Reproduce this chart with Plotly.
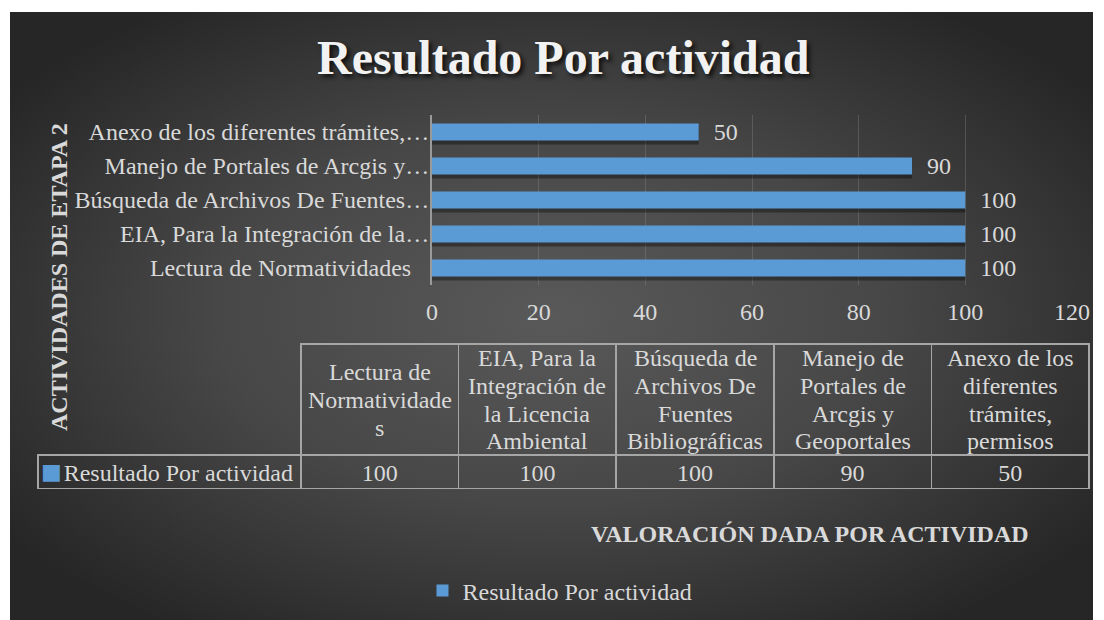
import base64
import plotly.graph_objects as go

# ---- data ----
categories = [
    "Lectura de Normatividades",
    "EIA, Para la Integración de la Licencia Ambiental",
    "Búsqueda de Archivos De Fuentes Bibliográficas",
    "Manejo de Portales de Arcgis y Geoportales",
    "Anexo de los diferentes trámites, permisos",
]
axis_labels = [
    "Lectura de Normatividades\u00a0\u00a0\u00a0",
    "EIA, Para la Integración de la…",
    "Búsqueda de Archivos De Fuentes…",
    "Manejo de Portales de Arcgis y…",
    "Anexo de los diferentes trámites,…",
]
table_labels = [
    ["Lectura de", "Normatividade", "s"],
    ["EIA, Para la", "Integración de", "la Licencia", "Ambiental"],
    ["Búsqueda de", "Archivos De", "Fuentes", "Bibliográficas"],
    ["Manejo de", "Portales de", "Arcgis y", "Geoportales"],
    ["Anexo de los", "diferentes", "trámites,", "permisos"],
]
values = [100, 100, 100, 90, 50]
series_name = "Resultado Por actividad"
x_ticks = [0, 20, 40, 60, 80, 100, 120]

W, H = 1104, 620
FONT = "Liberation Serif"
TXT = "#d9d9d9"
BAR = "#5B9BD5"
FS = 24

# table geometry (px)
TBL_L, TBL_R = 38, 1089
TBL_TOP, HDR_BOT, TBL_BOT = 344, 455, 489
label_w = 263
col_w = (TBL_R - TBL_L - label_w) / len(categories)
LINE_H = 28

# background gradient (svg data uri)
svg = """<svg xmlns='http://www.w3.org/2000/svg' width='1083' height='608' viewBox='0 0 1083 608'>
<defs><radialGradient id='g' cx='0.5' cy='0.5' r='0.62' fx='0.5' fy='0.5'>
<stop offset='0' stop-color='#595959'/><stop offset='0.5' stop-color='#474747'/><stop offset='1' stop-color='#262626'/>
</radialGradient></defs><rect width='1083' height='608' fill='url(#g)'/></svg>"""
bg_uri = "data:image/svg+xml;base64," + base64.b64encode(svg.encode()).decode()

fig = go.Figure()

# soft drop shadow under the bars
fig.add_trace(go.Bar(
    x=values, y=categories, orientation="h", name="shadow", showlegend=False,
    marker=dict(color="rgba(0,0,0,0.35)", line=dict(width=0)),
    width=0.5, offset=-0.37, hoverinfo="skip",
))
fig.add_trace(go.Bar(
    x=values, y=categories, orientation="h", name=series_name,
    marker=dict(color=BAR, line=dict(width=0)),
    width=0.5, offset=-0.25,
    text=[f"\u00a0\u00a0{v}" for v in values], textposition="outside",
    constraintext="none",
    textfont=dict(family=FONT, size=FS, color=TXT),
    cliponaxis=False,
))

# data table (grid + value row); header text placed as centred annotations below
fig.add_trace(go.Table(
    domain=dict(x=[TBL_L / W, TBL_R / W], y=[1 - TBL_BOT / H, 1 - TBL_TOP / H]),
    columnwidth=[label_w] + [col_w] * len(categories),
    header=dict(
        values=[""] * (len(categories) + 1),
        height=HDR_BOT - TBL_TOP,
        fill=dict(color="rgba(0,0,0,0)"),
        line=dict(color=["rgba(0,0,0,0)"] + ["#a6a6a6"] * len(categories), width=1.5),
        font=dict(family=FONT, size=FS, color=TXT),
    ),
    cells=dict(
        values=[[series_name]] + [[v] for v in values],
        align=["right"] + ["center"] * len(values),
        height=TBL_BOT - HDR_BOT,
        fill=dict(color="rgba(0,0,0,0)"),
        line=dict(color="#a6a6a6", width=1.5),
        font=dict(family=FONT, size=FS, color=TXT),
    ),
))

annotations = [
    dict(text="<b>Resultado Por actividad</b>", x=563 / W, y=1 - 58 / H,
         xref="paper", yref="paper", showarrow=False, xanchor="center", yanchor="middle",
         font=dict(family=FONT, size=48, color="#f2f2f2", shadow="3px 3px 4px #111")),
    dict(text="<b>ACTIVIDADES DE ETAPA 2</b>", x=59 / W, y=1 - 277 / H,
         xref="paper", yref="paper", showarrow=False, textangle=-90,
         xanchor="center", yanchor="middle",
         font=dict(family=FONT, size=FS, color=TXT)),
    dict(text="<b>VALORACIÓN DADA POR ACTIVIDAD</b>", x=810 / W, y=1 - 534 / H,
         xref="paper", yref="paper", showarrow=False, xanchor="center", yanchor="middle",
         font=dict(family=FONT, size=FS, color=TXT)),
    # legend key in the table row
    dict(text="■", x=51 / W, y=1 - 472 / H, xref="paper", yref="paper", showarrow=False,
         xanchor="center", yanchor="middle", font=dict(family="DejaVu Sans", size=22, color=BAR)),
]
hdr_mid = (TBL_TOP + HDR_BOT) / 2
for i, lines in enumerate(table_labels):
    cx = TBL_L + label_w + col_w * (i + 0.5)
    n = len(lines)
    for j, line in enumerate(lines):
        cy = hdr_mid + (j - (n - 1) / 2) * LINE_H
        annotations.append(dict(
            text=line, x=cx / W, y=1 - cy / H, xref="paper", yref="paper",
            showarrow=False, xanchor="center", yanchor="middle",
            font=dict(family=FONT, size=FS, color=TXT),
        ))

fig.update_layout(
    width=W, height=H,
    margin=dict(l=0, r=0, t=0, b=0, autoexpand=False),
    paper_bgcolor="white",
    plot_bgcolor="rgba(0,0,0,0)",
    barmode="overlay",
    showlegend=True,
    legend=dict(
        orientation="h", x=560 / W, xanchor="center", y=1 - 591 / H, yanchor="middle",
        font=dict(family=FONT, size=FS, color=TXT), bgcolor="rgba(0,0,0,0)",
        itemwidth=30,
    ),
    xaxis=dict(
        domain=[432 / W, 1072 / W], range=[0, 120], tickvals=x_ticks,
        showgrid=True, gridcolor="rgba(140,140,140,0.35)", gridwidth=1,
        zeroline=False, showline=False, ticks="", ticklabelstandoff=10,
        tickfont=dict(family=FONT, size=FS, color=TXT),
        automargin=False, anchor="y",
    ),
    yaxis=dict(
        domain=[1 - 285 / H, 1 - 115 / H],
        categoryorder="array", categoryarray=categories,
        tickvals=categories, ticktext=axis_labels,
        showline=True, linecolor="#9a9a9a", linewidth=2,
        ticks="", showgrid=False, ticklabelstandoff=-4,
        tickfont=dict(family=FONT, size=FS, color=TXT),
        automargin=False, anchor="x",
    ),
    images=[dict(
        source=bg_uri, xref="paper", yref="paper",
        x=10 / W, y=1 - 12 / H, sizex=1083 / W, sizey=608 / H,
        xanchor="left", yanchor="top", sizing="stretch", layer="below",
    )],
    annotations=annotations,
)

fig.write_html(
    "out.html",
    config={"displayModeBar": False},
    post_script=[
        "document.documentElement.style.margin='0';document.documentElement.style.overflow='hidden';"
        "document.body.style.margin='0';document.body.style.overflow='hidden';"
    ],
)
